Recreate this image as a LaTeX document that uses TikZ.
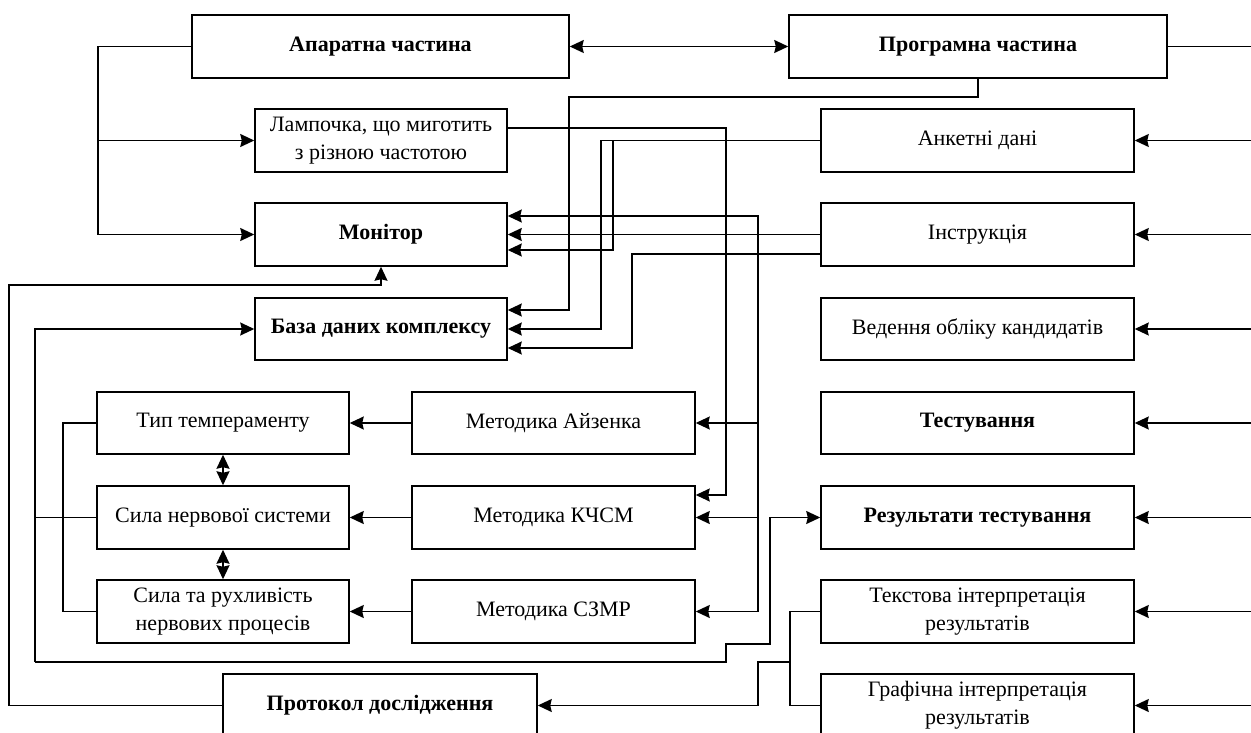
\documentclass[tikz,border=0pt]{standalone}
\usepackage{fontspec}
\setmainfont{Liberation Serif}
\usetikzlibrary{arrows.meta}
\begin{document}
\begin{tikzpicture}[x=1pt,y=-1pt,
  box/.style={draw,line width=1.5pt,minimum height=63pt,inner sep=2pt,align=center,
    font=\fontsize{22}{28}\selectfont},
  bbox/.style={box,font=\fontsize{22}{28}\selectfont\bfseries},
  ln/.style={line width=1.5pt},
  tip/.style={},
  arr/.style={ln,-{Stealth[length=14pt,width=13pt,inset=1.5pt]}},
  darr/.style={ln,{Stealth[length=14pt,width=13pt,inset=1.5pt]}-{Stealth[length=14pt,width=13pt,inset=1.5pt]}}]
\useasboundingbox (0,0) rectangle (1251,733);
\clip (0,0) rectangle (1251,733);
% top
\node[bbox,minimum width=377pt] (apar) at (380.5,46.5) {Апаратна частина};
\node[bbox,minimum width=378pt] (prog) at (978,46.5) {Програмна частина};
% middle-left column
\node[box,minimum width=252pt] (lamp) at (381,140.5) {Лампочка, що миготить\\з різною частотою};
\node[bbox,minimum width=252pt] (mon) at (381,234.5) {Монітор};
\node[bbox,minimum width=252pt,minimum height=62pt] (bd) at (381,329) {База даних комплексу};
% right column
\node[box,minimum width=313pt] (ank) at (977.5,140.5) {Анкетні дані};
\node[box,minimum width=313pt] (instr) at (977.5,234.5) {Інструкція};
\node[box,minimum width=313pt,minimum height=62pt] (ved) at (977.5,329) {Ведення обліку кандидатів};
\node[bbox,minimum width=313pt,minimum height=62pt] (test) at (977.5,423) {Тестування};
\node[bbox,minimum width=313pt] (rez) at (977.5,517.5) {Результати тестування};
\node[box,minimum width=313pt] (txt) at (977.5,611.5) {Текстова інтерпретація\\результатів};
\node[box,minimum width=313pt] (graf) at (977.5,705.5) {Графічна інтерпретація\\результатів};
% left column
\node[box,minimum width=252pt,minimum height=62pt] (typ) at (223,423) {Тип темпераменту};
\node[box,minimum width=252pt] (syla) at (223,517.5) {Сила нервової системи};
\node[box,minimum width=252pt] (sylar) at (223,611.5) {Сила та рухливість\\нервових процесів};
% methods
\node[box,minimum width=283pt,minimum height=62pt] (ayz) at (553.5,423) {Методика Айзенка};
\node[box,minimum width=283pt] (kchsm) at (553.5,517.5) {Методика КЧСМ};
\node[box,minimum width=283pt] (szmr) at (553.5,611.5) {Методика СЗМР};
% protocol
\node[bbox,minimum width=314pt] (prot) at (380,705.5) {Протокол дослідження};

% connectors
\draw[arr] (apar.west) -| (98,234.5) -- (mon.west);
\draw[arr] (98,140.5) -- (lamp.west);
\draw[darr] (apar.east) -- (prog.west);
\draw[ln] (prog.east) -- (1251,46.5);
\draw[arr] (prog.south) |- (569,97) |- (bd.east |- 0,310);
\draw[arr] (lamp.east |- 0,128) -| (726,495) -- (kchsm.east |- 0,495);
\draw[arr] (ank.west) -| (601,329) -- (bd.east);
\draw[arr] (613,140.5) |- (mon.east |- 0,250);
\draw[arr] (instr.west) -- (mon.east);
\draw[arr] (instr.west |- 0,254) -| (632,348) -- (bd.east |- 0,348);
\draw[arr] (758,611.5) |- (mon.east |- 0,216);
\draw[arr] (758,611.5) -- (szmr.east);
\draw[arr] (758,423) -- (ayz.east);
\draw[arr] (758,517.5) -- (kchsm.east);
\draw[arr] (ayz.west) -- (typ.east);
\draw[arr] (kchsm.west) -- (syla.east);
\draw[arr] (szmr.west) -- (sylar.east);
\draw[darr] (typ.south) -- (syla.north);
\draw[darr] (syla.south) -- (sylar.north);
\draw[ln] (typ.west) -| (63,611.5) -- (sylar.west);
\draw[ln] (syla.west) -- (35,517.5);
\draw[arr] (35,662) -- (35,329) -- (bd.west);
\draw[arr] (35,662) -| (726,644) -| (770,517.5) -- (rez.west);
\draw[arr] (prot.west) -| (9,285) -| (mon.south);
\draw[ln] (txt.west) -| (790,705.5) -- (graf.west);
\draw[arr] (790,662) -| (758,705.5) -- (prot.east);
\foreach \n in {ank,instr,ved,test,rez,txt,graf}
  \draw[arr] (1251,0 |- \n.east) -- (\n.east);
\end{tikzpicture}
\end{document}
